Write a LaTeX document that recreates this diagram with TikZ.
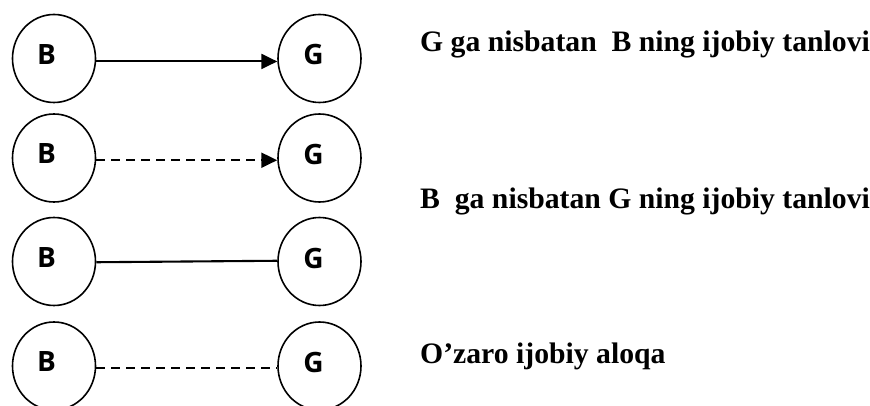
\documentclass[tikz,border=0pt]{standalone}
\usepackage{fontspec}
\setmainfont{Liberation Serif}
\newfontfamily\circfont{Open Sans}
\usetikzlibrary{shapes.geometric,arrows.meta}

\tikzset{
  person/.style={ellipse, draw, line width=1.6pt, minimum width=83pt,
    minimum height=88pt, inner sep=0pt},
  who/.style={font=\circfont\bfseries\fontsize{28}{32}\selectfont, inner sep=0pt},
  link/.style={line width=2.1pt},
  dashlink/.style={link, dash pattern=on 9pt off 6pt},
  tip/.style={-{Triangle[length=16pt,width=15pt]}},
  caption/.style={anchor=base west, inner sep=0pt,
    font=\bfseries\fontsize{29.7}{34}\selectfont}
}

\begin{document}
\begin{tikzpicture}[x=1pt,y=-1pt]
  \useasboundingbox (0,0) rectangle (870,406);
  \clip (0,0) rectangle (870,406);

  % four B--G pairs, top to bottom
  \foreach \r/\y in {1/58.5, 2/158, 3/261.5, 4/366} {
    \node[person, label={[who, shift={(-7.5pt,4pt)}]center:B}] (b\r) at (54,\y) {};
    \node[person, label={[who, shift={(-6pt,3.5pt)}]center:G}] (g\r) at (319.5,\y) {};
  }

  % kinds of ties
  \draw[link, tip]     (b1.-4) -- (g1.184);
  \draw[dashlink, tip] (b2.-3) -- (g2.183);
  \draw[link]          (b3.-1) -- (g3.179);
  \draw[dashlink]      (b4.-3) -- (g4.183);

  % explanations
  \node[caption] (t1) at (420,51.7) {G ga nisbatan\ \ B ning ijobiy tanlovi};
  \node[caption] (t2) at (420,208) {B\ \ ga nisbatan G ning ijobiy tanlovi};
  \node[caption] (t3) at (420,363) {O’zaro ijobiy aloqa};
\end{tikzpicture}
\end{document}
